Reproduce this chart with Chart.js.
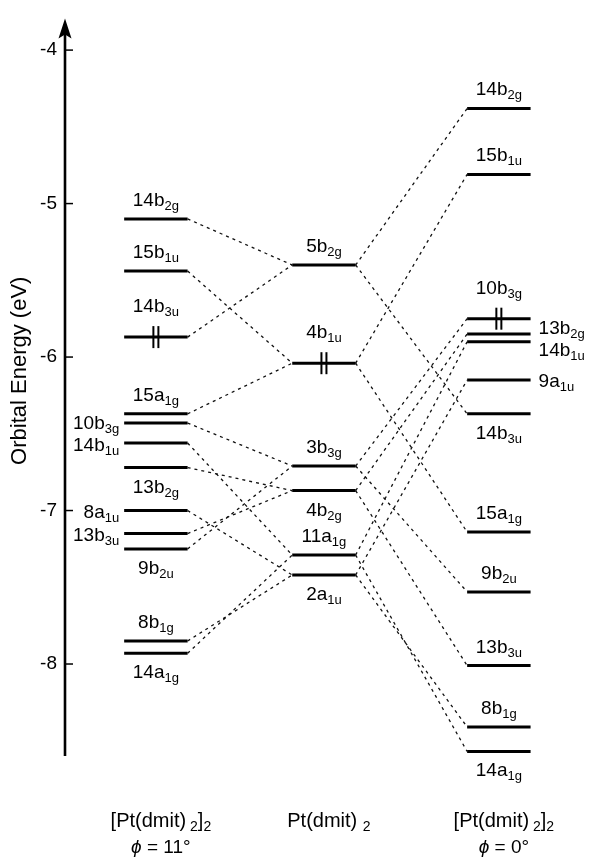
<!DOCTYPE html>
<html>
<head>
<meta charset="utf-8">
<title>Orbital energy diagram</title>
<script src="https://cdn.jsdelivr.net/npm/chart.js@4.4.1/dist/chart.umd.min.js"></script>
<style>
  html, body { margin: 0; padding: 0; background: #fff; }
  #wrap { width: 590px; height: 861px; position: relative; }
</style>
</head>
<body>
<div id="wrap"><canvas id="mo-chart"></canvas></div>
<script>
// energy ticks (eV)
const yTicks = [-4, -5, -6, -7, -8];

// [Pt(dmit)2]2, phi = 11
const dimer11Names = ['14b_{2g}', '15b_{1u}', '14b_{3u}', '15a_{1g}', '10b_{3g}', '14b_{1u}',
                      '13b_{2g}', '8a_{1u}', '13b_{3u}', '9b_{2u}', '8b_{1g}', '14a_{1g}'];
const dimer11Energy = [-5.10, -5.44, -5.87, -6.37, -6.43, -6.56, -6.72, -7.00, -7.15, -7.25, -7.85, -7.93];
const dimer11Link = [0, 1, 0, 1, 2, 4, 3, 5, 3, 2, 5, 4];   // which monomer level it comes from

// Pt(dmit)2 monomer
const monoNames = ['5b_{2g}', '4b_{1u}', '3b_{3g}', '4b_{2g}', '11a_{1g}', '2a_{1u}'];
const monoEnergy = [-5.40, -6.04, -6.71, -6.87, -7.29, -7.42];

// [Pt(dmit)2]2, phi = 0
const dimer0Names = ['14b_{2g}', '15b_{1u}', '10b_{3g}', '13b_{2g}', '14b_{1u}', '9a_{1u}',
                     '14b_{3u}', '15a_{1g}', '9b_{2u}', '13b_{3u}', '8b_{1g}', '14a_{1g}'];
const dimer0Energy = [-4.38, -4.81, -5.75, -5.85, -5.90, -6.15, -6.37, -7.14, -7.53, -8.01, -8.41, -8.57];
const dimer0Link = [0, 1, 2, 3, 4, 5, 0, 1, 2, 3, 5, 4];

// HOMO (doubly occupied) index in each column
const occupied = [2, 1, 2];

const captions = ['[Pt(dmit)_{ 2}]_{2}', 'Pt(dmit) _{2}', '[Pt(dmit)_{ 2}]_{2}'];
const angles = ['*ϕ* = 11°', '', '*ϕ* = 0°'];

// where each label sits relative to its level
const dimer11LabelAt = ['above', 'above', 'above', 'above', 'left', 'left',
                        'below', 'left', 'left', 'below', 'above', 'below'];
const monoLabelAt = ['above', 'above', 'above', 'below', 'above', 'below'];
const dimer0LabelAt = ['above', 'above', 'above', 'right', 'right', 'right',
                       'below', 'above', 'above', 'above', 'above', 'below'];

const colX = [1, 1.98, 3];
const halfW = 0.185;
const FONT = '"Liberation Sans", Arial, Helvetica, sans-serif';

const columns = [
    { names: dimer11Names, energy: dimer11Energy, place: dimer11LabelAt },
    { names: monoNames, energy: monoEnergy, place: monoLabelAt },
    { names: dimer0Names, energy: dimer0Energy, place: dimer0LabelAt }
];

// text with _{sub} and *italic* parts
function parseRich(str) {
    const parts = [];
    const re = /_\{([^}]*)\}|\*([^*]*)\*/g;
    let last = 0, m;
    while ((m = re.exec(str))) {
        if (m.index > last) parts.push({ t: str.slice(last, m.index) });
        if (m[1] !== undefined) parts.push({ t: m[1], sub: true });
        else parts.push({ t: m[2], it: true });
        last = re.lastIndex;
    }
    if (last < str.length) parts.push({ t: str.slice(last) });
    return parts;
}

function partFont(p, size) {
    if (p.sub) return Math.round(size * 0.69) + 'px ' + FONT;
    if (p.it) return 'italic ' + size + 'px ' + FONT;
    return size + 'px ' + FONT;
}

function drawRich(ctx, str, x, baseline, align, size) {
    size = size || 19;
    const parts = parseRich(str);
    let w = 0;
    parts.forEach(p => {
        ctx.font = partFont(p, size);
        p.w = ctx.measureText(p.t).width;
        w += p.w;
    });
    let cx = align === 'center' ? x - w / 2 : (align === 'right' ? x - w : x);
    ctx.textAlign = 'left';
    ctx.textBaseline = 'alphabetic';
    parts.forEach(p => {
        ctx.font = partFont(p, size);
        ctx.fillText(p.t, cx, baseline + (p.sub ? 4 : 0));
        cx += p.w;
    });
}

// datasets: levels and dashed correlation lines
const datasets = [];

function levelSet(col, e) {
    return {
        data: [{ x: colX[col] - halfW, y: e }, { x: colX[col] + halfW, y: e }],
        borderColor: '#000',
        borderWidth: 3,
        borderCapStyle: 'butt',
        pointRadius: 0,
        order: 0
    };
}

function linkSet(xa, ya, xb, yb) {
    return {
        data: [{ x: xa, y: ya }, { x: xb, y: yb }],
        borderColor: '#111',
        borderWidth: 1.3,
        borderDash: [3, 4],
        pointRadius: 0,
        order: 1
    };
}

columns.forEach((col, c) => col.energy.forEach(e => datasets.push(levelSet(c, e))));
dimer11Energy.forEach((e, i) => {
    datasets.push(linkSet(colX[0] + halfW, e, colX[1] - halfW, monoEnergy[dimer11Link[i]]));
});
dimer0Energy.forEach((e, i) => {
    datasets.push(linkSet(colX[1] + halfW, monoEnergy[dimer0Link[i]], colX[2] - halfW, e));
});

const diagramPlugin = {
    id: 'diagram',
    afterDatasetsDraw(chart) {
        const { ctx, chartArea } = chart;
        const xs = chart.scales.x, ys = chart.scales.y;
        ctx.save();
        ctx.fillStyle = '#000';
        ctx.strokeStyle = '#000';

        // energy axis with arrow
        const ax = chartArea.left;
        const tip = chartArea.top - 1;
        ctx.lineWidth = 2.6;
        ctx.beginPath();
        ctx.moveTo(ax, chartArea.bottom);
        ctx.lineTo(ax, tip + 14);
        ctx.stroke();
        ctx.beginPath();
        ctx.moveTo(ax, tip);
        ctx.lineTo(ax - 6.5, tip + 20);
        ctx.lineTo(ax, tip + 16);
        ctx.lineTo(ax + 6.5, tip + 20);
        ctx.closePath();
        ctx.fill();

        ctx.lineWidth = 1.5;
        yTicks.forEach(v => {
            const py = ys.getPixelForValue(v);
            ctx.beginPath();
            ctx.moveTo(ax, py);
            ctx.lineTo(ax + 8, py);
            ctx.stroke();
        });

        // axis title
        ctx.save();
        ctx.translate(20, (chartArea.top + chartArea.bottom) / 2 - 17);
        ctx.rotate(-Math.PI / 2);
        ctx.font = '22px ' + FONT;
        ctx.textAlign = 'center';
        ctx.textBaseline = 'middle';
        ctx.fillText('Orbital Energy (eV)', 0, 0);
        ctx.restore();

        // paired electrons on the HOMO
        ctx.lineWidth = 2;
        occupied.forEach((i, c) => {
            const px = xs.getPixelForValue(colX[c]);
            const py = ys.getPixelForValue(columns[c].energy[i]);
            [-2.5, 2.5].forEach(d => {
                ctx.beginPath();
                ctx.moveTo(px + d, py - 11);
                ctx.lineTo(px + d, py + 11);
                ctx.stroke();
            });
        });

        // level labels
        columns.forEach((col, c) => {
            const cx = xs.getPixelForValue(colX[c]);
            const x0 = xs.getPixelForValue(colX[c] - halfW);
            const x1 = xs.getPixelForValue(colX[c] + halfW);
            const side = { left: [], right: [] };
            col.names.forEach((name, i) => {
                const py = ys.getPixelForValue(col.energy[i]);
                const where = col.place[i];
                if (where === 'above') {
                    drawRich(ctx, name, cx, py - (i === occupied[c] ? 25 : 13), 'center');
                } else if (where === 'below') {
                    drawRich(ctx, name, cx, py + 25, 'center');
                } else {
                    side[where].push({ name, py, ty: py });
                }
            });
            ['left', 'right'].forEach(s => {
                const items = side[s].sort((a, b) => a.py - b.py);
                for (let k = 1; k < items.length; k++) {
                    const gap = items[k].ty - items[k - 1].ty;
                    if (gap < 22) {
                        const d = (22 - gap) / 2;
                        items[k - 1].ty -= d;
                        items[k].ty += d;
                    }
                }
                items.forEach(it => {
                    if (s === 'left') drawRich(ctx, it.name, x0 - 5, it.ty + 7, 'right');
                    else drawRich(ctx, it.name, x1 + 8, it.ty + 7, 'left');
                });
            });
        });

        // column captions
        captions.forEach((cap, c) => {
            const cx = xs.getPixelForValue(colX[c]) + 5;
            drawRich(ctx, cap, cx, chartArea.bottom + 71, 'center', 20);
            if (angles[c]) drawRich(ctx, angles[c], cx, chartArea.bottom + 97, 'center', 19);
        });
        ctx.restore();
    }
};

const chart = new Chart(document.getElementById('mo-chart').getContext('2d'), {
    type: 'line',
    data: { datasets: datasets },
    options: {
        responsive: true,
        maintainAspectRatio: false,
        animation: false,
        events: [],
        layout: { padding: { top: 13.9, bottom: 104.9, left: 0, right: 5.4 } },
        plugins: {
            legend: { display: false },
            tooltip: { enabled: false }
        },
        scales: {
            x: {
                type: 'linear',
                display: false,
                min: 0.47,
                max: 3.5
            },
            y: {
                type: 'linear',
                min: -8.6,
                max: -3.8,
                afterFit: scale => { scale.width = 65; },
                afterBuildTicks: scale => { scale.ticks = yTicks.map(v => ({ value: v })); },
                grid: { display: false, drawTicks: false },
                border: { display: false },
                ticks: {
                    padding: 8,
                    color: '#000',
                    font: { size: 19, family: FONT }
                }
            }
        }
    },
    plugins: [diagramPlugin]
});
</script>
</body>
</html>
